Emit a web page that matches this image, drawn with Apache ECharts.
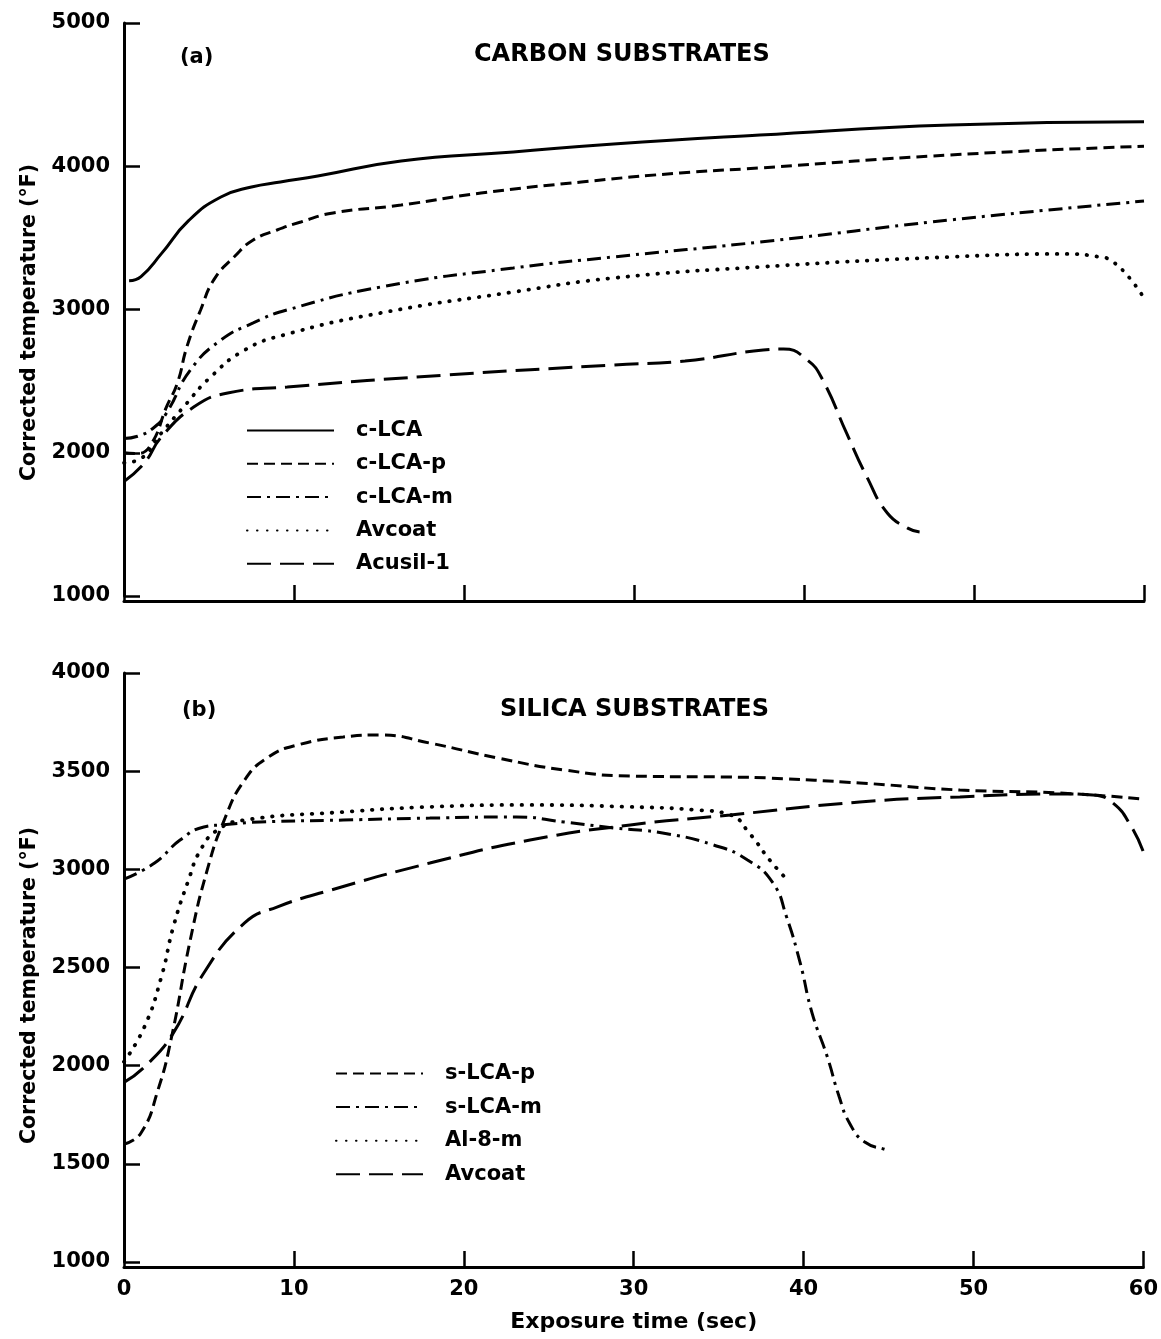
<!DOCTYPE html>
<html>
<head>
<meta charset="utf-8">
<script src="https://cdn.jsdelivr.net/npm/echarts@6/dist/echarts.min.js"></script>
<style>
html, body { margin: 0; padding: 0; background: #fff; }
#chart { width: 1161px; height: 1339px; }
</style>
</head>
<body>
<div id="chart"></div>
<script>
// Corrected surface temperature vs exposure time, [time (sec), temperature (°F)]

// (a) carbon substrates
const cLCA = [[0.3,3200],[1,3230],[2.2,3390],[3.8,3620],[5.7,3785],[7.5,3855],[9.2,3890],[11.4,3932],[16.3,4037],[22.9,4100],[28.8,4156],[37.4,4218],[48.6,4288],[60,4310]];
const cLCAp = [[0,2000],[0.8,1995],[1.6,2060],[2.5,2320],[3.15,2490],[3.7,2740],[4.5,2995],[5.3,3210],[6.5,3370],[7.6,3485],[9,3555],[10.4,3611],[12.3,3674],[16.3,3729],[21,3813],[26.9,3890],[32.7,3953],[37.4,3988],[48.6,4079],[60,4140]];
const cLCAm = [[0,2100],[0.8,2115],[1.8,2180],[2.5,2277],[3.9,2577],[5.7,2787],[7.6,2906],[9.6,2997],[15.1,3157],[22.9,3290],[28.8,3367],[37.4,3471],[48.6,3625],[60,3757]];
const avcoatCarbon = [[0,1930],[1,1960],[2.2,2138],[3.5,2319],[5.1,2529],[7.1,2717],[9.4,2822],[15.1,2976],[22.9,3122],[28.8,3220],[37.4,3297],[48.6,3367],[55.5,3388],[57.4,3367],[58,3346],[59,3241],[60,3080]];
const acusil1 = [[0,1800],[1.2,1929],[2.2,2110],[4.1,2319],[6.1,2417],[9.6,2459],[19,2543],[28.8,2613],[33,2640],[37.6,2717],[38.8,2724],[40.2,2647],[41.1,2508],[42.5,2138],[43.7,1831],[44.9,1579],[46.1,1474],[46.8,1447]];

// (b) silica substrates
const sLCAp = [[0,1600],[1,1657],[2,1876],[2.8,2146],[3.9,2640],[4.9,2997],[5.9,3251],[7.1,3455],[8.5,3572],[10.2,3633],[12.9,3674],[15.1,3684],[18,3643],[22,3567],[25.9,3506],[29.8,3475],[35.7,3470],[38,3465],[43.3,3440],[49.2,3404],[55,3389],[60,3358]];
const sLCAm = [[0,2950],[1.8,3032],[3.3,3149],[4.7,3216],[5.7,3226],[8,3241],[12.9,3251],[18,3261],[23.1,3267],[25.9,3241],[28.8,3211],[31.7,3185],[34.7,3124],[36.7,3048],[38.2,2930],[39,2757],[39.8,2523],[40.5,2268],[41.4,2044],[42.1,1840],[42.7,1708],[43.6,1611],[44.9,1570],[45,1565]];
const al8m = [[0,2020],[1.2,2197],[2.2,2452],[2.9,2706],[3.8,2946],[4.5,3098],[5.5,3200],[7.1,3251],[12.9,3292],[18,3318],[23.9,3328],[29.8,3318],[33.7,3302],[35.7,3277],[36.8,3185],[38,3048],[39,2950]];
const avcoatSilica = [[0,1915],[1.2,1993],[2.9,2166],[4.7,2472],[7.1,2727],[9,2808],[12.2,2895],[18,3032],[23.9,3149],[29.8,3226],[35.7,3277],[43.3,3343],[49.2,3369],[55,3384],[57,3379],[58.2,3338],[59.3,3216],[60,3088]];

// axis ranges and ticks
const timeTicks = { min: 0, max: 60, interval: 10 };
const carbonTicks = { min: 1000, max: 5000, interval: 1000 };
const silicaTicks = { min: 1000, max: 4000, interval: 500 };

const FONT = 'DejaVu Sans';
const INK = '#000';

const dashStyles = {
  solid: { type: 'solid', cap: 'butt' },
  dashed: { type: [11, 6], cap: 'butt' },
  dashDot: { type: [14, 6, 3, 6], cap: 'butt' },
  dotted: { type: [0.5, 9.5], cap: 'round' },
  longDash: { type: [24, 9], cap: 'butt' }
};

function makeSeries(name, data, gridIdx, style) {
  return {
    type: 'line', name, data,
    xAxisIndex: gridIdx, yAxisIndex: gridIdx,
    symbol: 'none', showSymbol: false,
    smooth: 0.5,
    itemStyle: { color: INK },
    lineStyle: Object.assign({ color: INK, width: style === 'dotted' ? 3.8 : 3 }, dashStyles[style]),
    silent: true
  };
}

const plainNumber = v => String(v);

function xAxisOf(gridIndex, showLabels) {
  return Object.assign({
    type: 'value', gridIndex, offset: 5,
    axisLine: { show: true, onZero: false, lineStyle: { color: INK, width: 3 } },
    axisTick: { show: true, inside: true, length: 16, lineStyle: { color: INK, width: 2.5 } },
    axisLabel: { show: showLabels, color: INK, fontFamily: FONT, fontWeight: 'bold', fontSize: 21, margin: 12, formatter: plainNumber },
    splitLine: { show: false },
    name: showLabels ? 'Exposure time (sec)' : '',
    nameLocation: 'middle', nameGap: 44,
    nameTextStyle: { color: INK, fontFamily: FONT, fontWeight: 'bold', fontSize: 22 }
  }, timeTicks);
}

function yAxisOf(gridIndex, ticks, nameShift) {
  return Object.assign({
    type: 'value', gridIndex, offset: 2,
    axisLine: { show: true, lineStyle: { color: INK, width: 3 } },
    axisTick: { show: true, inside: true, length: 16, lineStyle: { color: INK, width: 2.5 } },
    axisLabel: { color: INK, fontFamily: FONT, fontWeight: 'bold', fontSize: 21, margin: 12, formatter: plainNumber },
    splitLine: { show: false },
    name: 'Corrected temperature (°F)',
    nameLocation: 'middle', nameGap: 66,
    nameTextStyle: { color: INK, fontFamily: FONT, fontWeight: 'bold', fontSize: 20.5, padding: [0, nameShift, 0, 0] }
  }, ticks);
}

const legendText = { color: INK, fontFamily: FONT, fontWeight: 'bold', fontSize: 21, lineHeight: 20, padding: [0, 0, 0, 17] };
const stripSubstrate = name => name.replace(/ \((carbon|silica)\)$/, '');
const legendBase = {
  orient: 'vertical', padding: 0,
  itemWidth: 87, itemHeight: 20,
  selectedMode: false, formatter: stripSubstrate, textStyle: legendText,
  itemStyle: { opacity: 0, borderWidth: 0 }
};

const chart = echarts.init(document.getElementById('chart'), null, { renderer: 'canvas' });
chart.setOption({
  animation: false,
  backgroundColor: '#fff',
  title: [
    { text: '(a)', left: 180, top: 46, padding: 0, textStyle: { color: INK, fontFamily: FONT, fontWeight: 'bold', fontSize: 21, lineHeight: 24 } },
    { text: 'CARBON SUBSTRATES', left: 474, top: 43, padding: 0, textStyle: { color: INK, fontFamily: FONT, fontWeight: 'bold', fontSize: 24, lineHeight: 24 } },
    { text: '(b)', left: 182, top: 699, padding: 0, textStyle: { color: INK, fontFamily: FONT, fontWeight: 'bold', fontSize: 21, lineHeight: 24 } },
    { text: 'SILICA SUBSTRATES', left: 500, top: 698, padding: 0, textStyle: { color: INK, fontFamily: FONT, fontWeight: 'bold', fontSize: 24, lineHeight: 24 } }
  ],
  legend: [
    Object.assign({}, legendBase, {
      data: ['c-LCA', 'c-LCA-p', 'c-LCA-m', 'Avcoat (carbon)', 'Acusil-1'],
      left: 246, top: 420, itemGap: 12.3
    }),
    Object.assign({}, legendBase, {
      data: ['s-LCA-p', 's-LCA-m', 'Al-8-m', 'Avcoat (silica)'],
      left: 335, top: 1063, itemGap: 12.6
    })
  ],
  grid: [
    { left: 124, right: 17, top: 23, height: 573 },
    { left: 124, right: 17, top: 673, height: 589 }
  ],
  xAxis: [xAxisOf(0, false), xAxisOf(1, true)],
  yAxis: [yAxisOf(0, carbonTicks, 26), yAxisOf(1, silicaTicks, 36)],
  series: [
    makeSeries('c-LCA', cLCA, 0, 'solid'),
    makeSeries('c-LCA-p', cLCAp, 0, 'dashed'),
    makeSeries('c-LCA-m', cLCAm, 0, 'dashDot'),
    makeSeries('Avcoat (carbon)', avcoatCarbon, 0, 'dotted'),
    makeSeries('Acusil-1', acusil1, 0, 'longDash'),
    makeSeries('s-LCA-p', sLCAp, 1, 'dashed'),
    makeSeries('s-LCA-m', sLCAm, 1, 'dashDot'),
    makeSeries('Al-8-m', al8m, 1, 'dotted'),
    makeSeries('Avcoat (silica)', avcoatSilica, 1, 'longDash')
  ]
});
</script>
</body>
</html>
